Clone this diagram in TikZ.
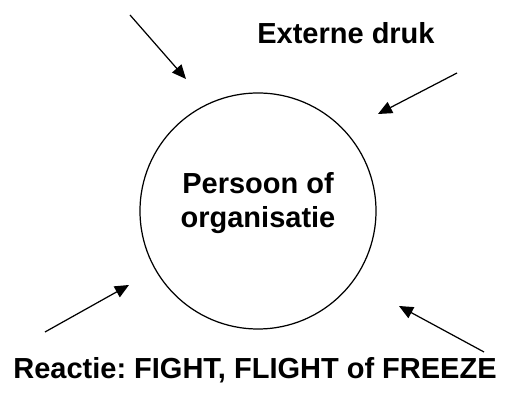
\documentclass[tikz,border=0pt]{standalone}
\usepackage{fontspec}
\setmainfont{Liberation Sans}
\usetikzlibrary{arrows.meta, positioning}
\frenchspacing
\tikzset{
  kern/.style={circle, draw=black, line width=0.7pt, minimum size=236*0.02cm},
  tekst/.style={font=\fontsize{16.5}{19.5}\selectfont\bfseries, inner sep=0pt, align=center},
  arrow/.style={-{Triangle[length=8pt, width=7pt]}, line width=0.7pt, color=black}
}
\begin{document}
\begin{tikzpicture}[x=0.02cm, y=-0.02cm]
  \useasboundingbox (0,0) rectangle (511,394);
  % circle with the subject
  \node[kern] (kern) at (258,211) {};
  \node[tekst] (naam) at (258,203) {Persoon of\\organisatie};
  \node[tekst] (druk) at (346,33) {Externe druk};
  \node[tekst] (reactie) at (255,370) {Reactie: FIGHT, FLIGHT of FREEZE};

  % pressure from outside
  \coordinate (a1) at (130,15);
  \coordinate (b1) at (186,79);
  \coordinate (a2) at (457,73);
  \coordinate (b2) at (378,114);
  \coordinate (a3) at (45,332);
  \coordinate (b3) at (129,285);
  \coordinate (a4) at (484,352);
  \coordinate (b4) at (399,306);
  \foreach \i in {1,...,4}
    \draw[arrow] (a\i) -- (b\i);
\end{tikzpicture}
\end{document}
